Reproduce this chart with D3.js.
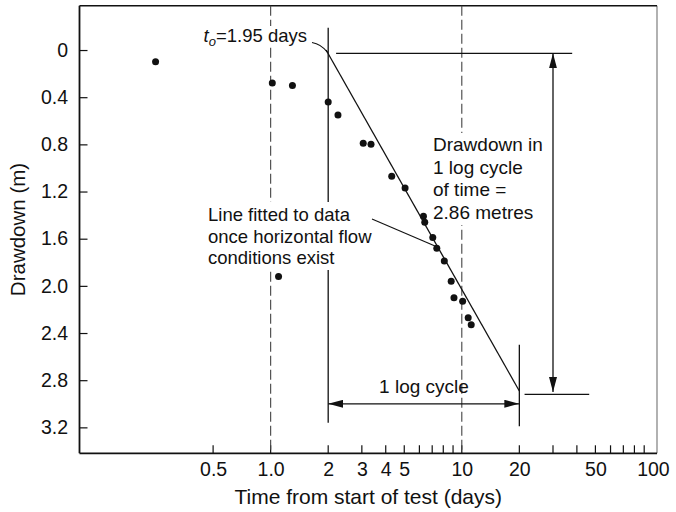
<!DOCTYPE html>
<html>
<head>
<meta charset="utf-8">
<script src="https://cdn.jsdelivr.net/npm/d3@7"></script>
<style>
  html, body { margin: 0; padding: 0; background: #fff; }
  svg { display: block; font-family: "Liberation Sans", Arial, Helvetica, sans-serif; }
</style>
</head>
<body>
<svg id="chart" width="676" height="512"></svg>
<script>
// ---- data ----
const times     = [0.25, 1.02, 1.3, 2.0, 2.25, 3.05, 3.35, 4.3, 5.05, 6.3, 6.4, 7.05, 7.4, 8.1, 8.8, 9.1, 10.1, 10.8, 11.2, 1.1];
const drawdowns = [0.10, 0.28, 0.30, 0.44, 0.55, 0.79, 0.80, 1.07, 1.17, 1.41, 1.46, 1.59, 1.68, 1.79, 1.96, 2.10, 2.13, 2.27, 2.33, 1.92];

const xTickValues = [0.5, 1, 2, 3, 4, 5, 10, 20, 50, 100];
const xTickLabels = ["0.5", "1.0", "2", "3", "4", "5", "10", "20", "50", "100"];
const xMinorTicks = [0.5, 1, 2, 3, 4, 5, 6, 7, 8, 9, 10, 20, 30, 40, 50, 60, 70, 80, 90];
const yTickValues = [0, 0.4, 0.8, 1.2, 1.6, 2.0, 2.4, 2.8, 3.2];
const yTickLabels = ["0", "0.4", "0.8", "1.2", "1.6", "2.0", "2.4", "2.8", "3.2"];

const fitT0 = 1.95;          // days
const fitSlope = 2.86;       // m per log cycle
const fitEnd = 20;
const dashedTimes = [1, 10];
const cycleStart = 2, cycleEnd = 20;
const cycleArrowLevel = 3.0;
const topLevel = 0.028, bottomLevel = 2.92;
const drawdownArrowTime = 30;

const xTitle = "Time from start of test (days)";
const yTitle = "Drawdown (m)";

// ---- scales ----
const svg = d3.select("#chart");
const x = d3.scaleLog().domain([0.1, 105]).range([79.5, 657]);
const y = d3.scaleLinear().domain([-0.376, 3.42]).range([5.7, 453.3]);
const X0 = x.range()[0], X1 = x.range()[1], Y0 = y.range()[0], Y1 = y.range()[1];
const ink = "#111";

// arrow marker
const defs = svg.append("defs");
defs.append("marker").attr("id", "ah").attr("markerUnits", "userSpaceOnUse")
  .attr("viewBox", "0 0 15 8").attr("refX", 15).attr("refY", 4)
  .attr("markerWidth", 15).attr("markerHeight", 8).attr("orient", "auto-start-reverse")
  .append("path").attr("d", "M0,0 L15,4 L0,8 Z").attr("fill", ink);

// ---- axes (ticks inward) ----
const xAxis = d3.axisBottom(x).tickValues(xTickValues)
  .tickFormat((d, i) => xTickLabels[i]).tickSize(0).tickPadding(9);
const gx = svg.append("g").attr("transform", `translate(0,${Y1})`).call(xAxis);
gx.select(".domain").remove();
gx.selectAll("text").attr("font-size", 19.5).attr("fill", ink).attr("font-family", null);

svg.append("g").selectAll("line").data(xMinorTicks).join("line")
  .attr("x1", d => x(d)).attr("x2", d => x(d)).attr("y1", Y1).attr("y2", Y1 - 8)
  .attr("stroke", ink).attr("stroke-width", 1.2);

const yAxis = d3.axisLeft(y).tickValues(yTickValues)
  .tickFormat((d, i) => yTickLabels[i]).tickSize(-8).tickPadding(11.5);
const gy = svg.append("g").attr("transform", `translate(${X0},0)`).call(yAxis);
gy.select(".domain").remove();
gy.selectAll("line").attr("stroke", ink).attr("stroke-width", 1.2);
gy.selectAll("text").attr("font-size", 19.5).attr("fill", ink).attr("font-family", null);

// frame
svg.append("line").attr("x1", X1).attr("x2", X1).attr("y1", Y0).attr("y2", Y1).attr("stroke", "#888").attr("stroke-width", 1.3);
svg.append("line").attr("x1", X0).attr("x2", X1).attr("y1", Y0).attr("y2", Y0).attr("stroke", ink).attr("stroke-width", 1.5);
svg.append("line").attr("x1", X0).attr("x2", X0).attr("y1", Y0).attr("y2", Y1).attr("stroke", ink).attr("stroke-width", 1.8);
svg.append("line").attr("x1", X0).attr("x2", X1).attr("y1", Y1).attr("y2", Y1).attr("stroke", ink).attr("stroke-width", 1.8);

// axis titles
svg.append("text").attr("x", (X0 + X1) / 2).attr("y", 504).attr("text-anchor", "middle")
  .attr("font-size", 21).attr("fill", ink).text(xTitle);
svg.append("text").attr("transform", `translate(25,${(Y0 + Y1) / 2}) rotate(-90)`)
  .attr("text-anchor", "middle").attr("font-size", 20.5).attr("fill", ink).text(yTitle);

// dashed reference lines
svg.append("g").selectAll("line").data(dashedTimes).join("line")
  .attr("x1", d => x(d)).attr("x2", d => x(d)).attr("y1", Y0).attr("y2", Y1)
  .attr("stroke", "#444").attr("stroke-width", 1.1).attr("stroke-dasharray", "10,4");

// solid vertical markers of the log cycle
svg.append("line").attr("x1", x(cycleStart)).attr("x2", x(cycleStart))
  .attr("y1", y(-0.19)).attr("y2", y(3.16)).attr("stroke", ink).attr("stroke-width", 1.3);
svg.append("line").attr("x1", x(cycleEnd)).attr("x2", x(cycleEnd))
  .attr("y1", y(2.5)).attr("y2", y(3.19)).attr("stroke", ink).attr("stroke-width", 1.3);

// horizontal reference lines for drawdown difference
svg.append("line").attr("x1", x(2.2)).attr("x2", x(37.8)).attr("y1", y(topLevel)).attr("y2", y(topLevel))
  .attr("stroke", ink).attr("stroke-width", 1.3);
svg.append("line").attr("x1", x(21.3)).attr("x2", x(46.4)).attr("y1", y(bottomLevel)).attr("y2", y(bottomLevel))
  .attr("stroke", ink).attr("stroke-width", 1.3);

// text backgrounds (hide lines behind annotations)
function bg(x0, y0, x1, y1) {
  svg.append("rect").attr("x", x0).attr("y", y0).attr("width", x1 - x0).attr("height", y1 - y0).attr("fill", "#fff");
}
bg(198, 26, 308, 47);
bg(205, 202, 376, 270);
bg(430, 133, 545, 225);

// annotations
const t0 = svg.append("text").attr("x", 307).attr("y", 42).attr("text-anchor", "end")
  .attr("font-size", 18.5).attr("fill", ink);
t0.append("tspan").attr("font-style", "italic").text("t");
t0.append("tspan").attr("font-style", "italic").attr("font-size", 13).attr("dy", 4).text("o");
t0.append("tspan").attr("dy", -4).text("=1.95 days");

function block(lines, x0, y0, lh, fs) {
  const t = svg.append("text").attr("font-size", fs).attr("fill", ink);
  lines.forEach((s, i) => t.append("tspan").attr("x", x0).attr("y", y0 + i * lh).text(s));
}
block(["Line fitted to data", "once horizontal flow", "conditions exist"], 208, 221, 21.5, 18.5);
block(["Drawdown in", "1 log cycle", "of time =", "2.86 metres"], 433, 151, 22.5, 19);
svg.append("text").attr("x", 424).attr("y", 393).attr("text-anchor", "middle")
  .attr("font-size", 19).attr("fill", ink).text("1 log cycle");

// leaders
const fitY = t => fitSlope * Math.log10(t / fitT0);
svg.append("path")
  .attr("d", `M312,42.5 Q321,44 ${x(fitT0) + 1.5},${y(0.02)}`)
  .attr("fill", "none").attr("stroke", ink).attr("stroke-width", 1.1);
svg.append("line").attr("x1", 372).attr("y1", 219).attr("x2", x(7.5)).attr("y2", y(fitY(7.5)))
  .attr("stroke", ink).attr("stroke-width", 1.1);

// fitted line
svg.append("line").attr("x1", x(fitT0)).attr("y1", y(0)).attr("x2", x(fitEnd)).attr("y2", y(fitY(fitEnd)))
  .attr("stroke", ink).attr("stroke-width", 1.3);

// arrows
svg.append("line").attr("x1", x(cycleStart)).attr("x2", x(cycleEnd))
  .attr("y1", y(cycleArrowLevel)).attr("y2", y(cycleArrowLevel))
  .attr("stroke", ink).attr("stroke-width", 1.3)
  .attr("marker-start", "url(#ah)").attr("marker-end", "url(#ah)");
svg.append("line").attr("x1", x(drawdownArrowTime)).attr("x2", x(drawdownArrowTime))
  .attr("y1", y(topLevel)).attr("y2", y(bottomLevel - 0.02))
  .attr("stroke", ink).attr("stroke-width", 1.3)
  .attr("marker-start", "url(#ah)").attr("marker-end", "url(#ah)");

// data points
svg.append("g").selectAll("circle").data(times.map((t, i) => [t, drawdowns[i]])).join("circle")
  .attr("cx", d => x(d[0])).attr("cy", d => y(d[1])).attr("r", 3.5).attr("fill", ink);
</script>
</body>
</html>
